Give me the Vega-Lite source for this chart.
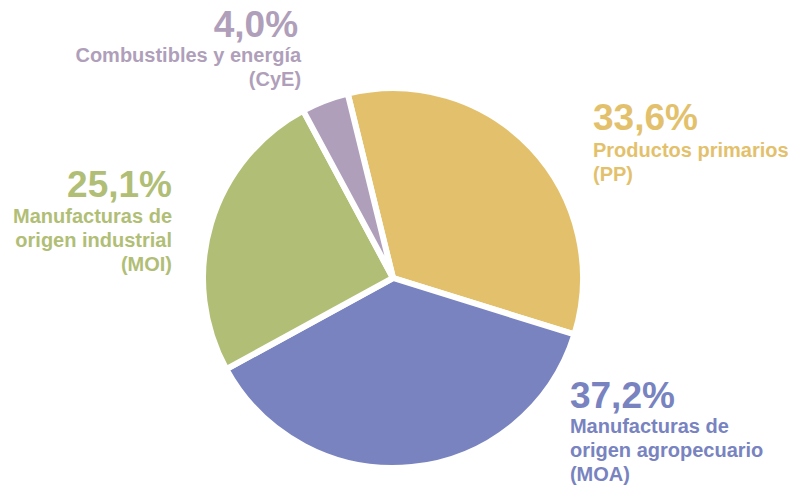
{
  "$schema": "https://vega.github.io/schema/vega-lite/v6.json",
  "width": 786,
  "height": 422,
  "autosize": {"type": "none"},
  "padding": {"left": 0, "top": 67, "right": 7, "bottom": 0},
  "background": "white",
  "config": {"view": {"stroke": null}, "text": {"font": "Liberation Sans", "fontWeight": "bold"}},
  "data": {
    "values": [
      {"ord": 1, "cat": "PP", "pct": 33.6, "pctLabel": "33,6%", "name": "Productos primarios\n(PP)"},
      {"ord": 2, "cat": "MOA", "pct": 37.2, "pctLabel": "37,2%", "name": "Manufacturas de\norigen agropecuario\n(MOA)"},
      {"ord": 3, "cat": "MOI", "pct": 25.1, "pctLabel": "25,1%", "name": "Manufacturas de\norigen industrial\n(MOI)"},
      {"ord": 4, "cat": "CyE", "pct": 4.0, "pctLabel": "4,0%", "name": "Combustibles y energía\n(CyE)"}
    ]
  },
  "transform": [
    {"stack": "pct", "groupby": [], "sort": [{"field": "ord", "order": "ascending"}], "as": ["s0", "s1"]}
  ],
  "encoding": {
    "color": {
      "field": "cat",
      "type": "nominal",
      "scale": {"domain": ["PP", "MOA", "MOI", "CyE"], "range": ["#e3c16c", "#7883bf", "#b1be76", "#b09fba"]},
      "legend": null
    }
  },
  "layer": [
    {
      "mark": {"type": "arc", "outerRadius": 190, "stroke": "white", "strokeWidth": 6},
      "encoding": {
        "theta": {"field": "s0", "type": "quantitative", "scale": {"domain": [0, 99.9], "range": [-0.2409, 6.0423]}},
        "theta2": {"field": "s1"}
      }
    },
    {
      "transform": [{"filter": "datum.cat === 'PP'"}],
      "mark": {"type": "text", "fontSize": 37, "align": "left", "baseline": "alphabetic", "dx": 244.6, "dy": 33.6},
      "encoding": {"theta": {"field": "s0", "type": "quantitative"}, "radius": {"value": 187}, "text": {"field": "pctLabel"}}
    },
    {
      "transform": [{"filter": "datum.cat === 'PP'"}],
      "mark": {"type": "text", "fontSize": 20, "lineHeight": 24, "lineBreak": "\n", "align": "left", "baseline": "alphabetic", "dx": 244.6, "dy": 60.6},
      "encoding": {"theta": {"field": "s0", "type": "quantitative"}, "radius": {"value": 187}, "text": {"field": "name"}}
    },
    {
      "transform": [{"filter": "datum.cat === 'MOA'"}],
      "mark": {"type": "text", "fontSize": 37, "align": "left", "baseline": "alphabetic", "dx": -1.6, "dy": 74.4},
      "encoding": {"theta": {"field": "s0", "type": "quantitative"}, "radius": {"value": 187}, "text": {"field": "pctLabel"}}
    },
    {
      "transform": [{"filter": "datum.cat === 'MOA'"}],
      "mark": {"type": "text", "fontSize": 20, "lineHeight": 24, "lineBreak": "\n", "align": "left", "baseline": "alphabetic", "dx": -1.6, "dy": 99.4},
      "encoding": {"theta": {"field": "s0", "type": "quantitative"}, "radius": {"value": 187}, "text": {"field": "name"}}
    },
    {
      "transform": [{"filter": "datum.cat === 'MOI'"}],
      "mark": {"type": "text", "fontSize": 37, "align": "right", "baseline": "alphabetic", "dx": -56.9, "dy": -170.7},
      "encoding": {"theta": {"field": "s0", "type": "quantitative"}, "radius": {"value": 187}, "text": {"field": "pctLabel"}}
    },
    {
      "transform": [{"filter": "datum.cat === 'MOI'"}],
      "mark": {"type": "text", "fontSize": 20, "lineHeight": 24, "lineBreak": "\n", "align": "right", "baseline": "alphabetic", "dx": -56.9, "dy": -144.7},
      "encoding": {"theta": {"field": "s0", "type": "quantitative"}, "radius": {"value": 187}, "text": {"field": "name"}}
    },
    {
      "transform": [{"filter": "datum.cat === 'CyE'"}],
      "mark": {"type": "text", "fontSize": 37, "align": "right", "baseline": "alphabetic", "dx": -6.5, "dy": -75.8},
      "encoding": {"theta": {"field": "s0", "type": "quantitative"}, "radius": {"value": 187}, "text": {"field": "pctLabel"}}
    },
    {
      "transform": [{"filter": "datum.cat === 'CyE'"}],
      "mark": {"type": "text", "fontSize": 20, "lineHeight": 24, "lineBreak": "\n", "align": "right", "baseline": "alphabetic", "dx": -3.5, "dy": -50.8},
      "encoding": {"theta": {"field": "s0", "type": "quantitative"}, "radius": {"value": 187}, "text": {"field": "name"}}
    }
  ]
}
